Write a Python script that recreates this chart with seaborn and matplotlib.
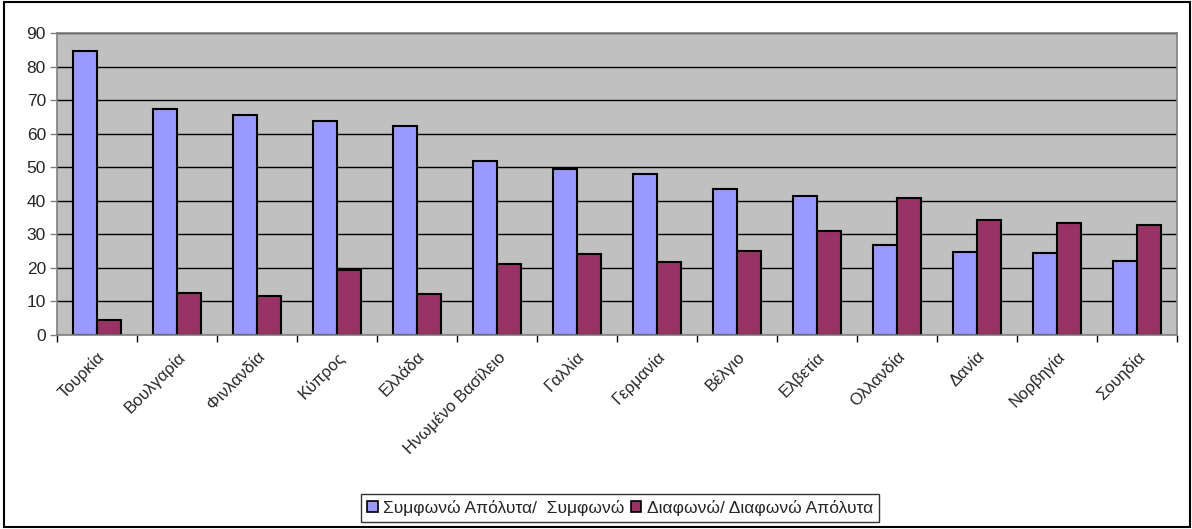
import matplotlib
matplotlib.use("Agg")
import matplotlib.pyplot as plt
import matplotlib.patches as mpatches
from matplotlib.ticker import MultipleLocator, FixedLocator
import seaborn as sns
import pandas as pd

countries = ["Τουρκία", "Βουλγαρία", "Φινλανδία", "Κύπρος", "Ελλάδα",
             "Ηνωμένο Βασίλειο", "Γαλλία", "Γερμανία", "Βέλγιο", "Ελβετία",
             "Ολλανδία", "Δανία", "Νορβηγία", "Σουηδία"]
agree = [84.5, 67.5, 65.5, 63.8, 62.3, 51.8, 49.5, 48.0, 43.4, 41.4, 26.7, 24.7, 24.3, 22.1]
disagree = [4.5, 12.5, 11.7, 19.5, 12.2, 21.2, 24.0, 21.8, 25.1, 31.0, 40.8, 34.4, 33.4, 32.7]
series = ["Συμφωνώ Απόλυτα/  Συμφωνώ", "Διαφωνώ/ Διαφωνώ Απόλυτα"]
colors = ["#9999FF", "#993366"]

df = pd.DataFrame({
    "country": countries * 2,
    "value": agree + disagree,
    "series": [series[0]] * len(countries) + [series[1]] * len(countries),
})

sns.set_theme(style="white")
plt.rcParams["font.family"] = ["Liberation Sans", "DejaVu Sans"]

fig = plt.figure(figsize=(11.92, 5.29), dpi=100)
ax = fig.add_axes([57 / 1192, 1 - 335 / 529, 1120 / 1192, 302 / 529])

sns.barplot(data=df, x="country", y="value", hue="series", palette=colors,
            width=0.6, gap=0, edgecolor="black", linewidth=1.5, ax=ax,
            saturation=1, legend=True)

ax.set_facecolor("#C0C0C0")
ax.set_ylim(0, 90)
ax.set_xlim(-0.5, len(countries) - 0.5)
ax.yaxis.set_major_locator(MultipleLocator(10))
ax.grid(axis="y", color="black", linewidth=1)
ax.set_axisbelow(True)
ax.set_xlabel("")
ax.set_ylabel("")

for side in ["top", "right", "left", "bottom"]:
    ax.spines[side].set_color("#808080")
    ax.spines[side].set_linewidth(1.2)

ax.tick_params(axis="y", which="major", length=5, width=1, color="#808080",
               labelsize=12.5, left=True, pad=3)
ax.tick_params(axis="x", which="major", length=0, labelsize=12, pad=10)
ax.xaxis.set_minor_locator(FixedLocator([i - 0.5 for i in range(len(countries) + 1)]))
ax.tick_params(axis="x", which="minor", length=5, width=1, color="black", bottom=True)
for lbl in ax.get_xticklabels():
    lbl.set_rotation(45)
    lbl.set_ha("right")
    lbl.set_rotation_mode("anchor")

leg = ax.legend(loc="center", bbox_to_anchor=(620 / 1192, 1 - 508 / 529),
                bbox_transform=fig.transFigure, ncol=2, frameon=True,
                fancybox=False, edgecolor="black", fontsize=12.5,
                handlelength=0.6, handleheight=0.6, handletextpad=0.3,
                columnspacing=0.4, borderpad=0.35)
leg.get_frame().set_linewidth(1)
for h in leg.legend_handles:
    h.set_edgecolor("black")
    h.set_linewidth(1.2)

fig.patches.append(mpatches.Rectangle((4 / 1192, 2 / 529), 1 - 6 / 1192, 1 - 4 / 529,
                                      transform=fig.transFigure, fill=False,
                                      edgecolor="black", linewidth=1.5))

fig.savefig("out.png", dpi=100, facecolor="white")
